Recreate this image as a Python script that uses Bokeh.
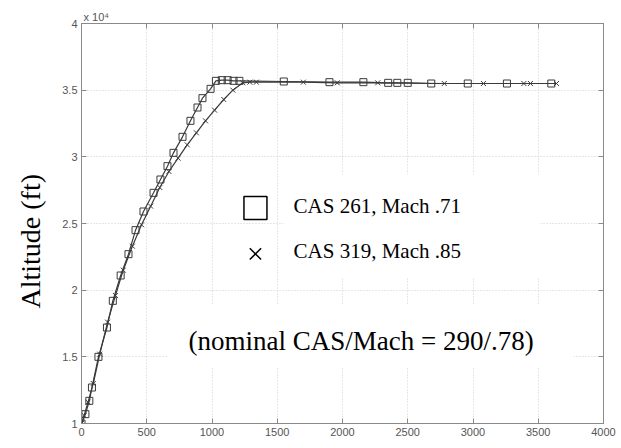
from bokeh.plotting import figure
from bokeh.models import (Label, LinearAxis, FixedTicker, CustomJSTickFormatter,
                          Range1d, Title)
from bokeh.embed import file_html
from bokeh.resources import INLINE

# Climb profiles: time (s) vs altitude (ft)
cas261_time = [0, 30, 60, 80, 130, 195, 240, 300, 360, 414, 475, 552, 605, 659,
               705, 774, 835, 889, 927, 989, 1030, 1075, 1120, 1165, 1210, 1550,
               1900, 2160, 2350, 2420, 2500, 2680, 2960, 3260, 3600]
cas261_alt = [10000, 10700, 11700, 12700, 15000, 17200, 19200, 21100, 22700,
              24500, 25900, 27300, 28300, 29300, 30300, 31500, 32700, 33700,
              34400, 35100, 35700, 35750, 35750, 35700, 35700, 35650, 35600,
              35600, 35550, 35550, 35550, 35500, 35500, 35500, 35500]

cas319_time = [0, 20, 50, 90, 140, 200, 260, 320, 390, 460, 530, 600, 670, 740,
               810, 880, 950, 1020, 1090, 1160, 1235, 1290, 1340, 1700, 1960,
               2270, 2780, 3080, 3390, 3440, 3640]
cas319_alt = [10000, 10600, 11600, 13000, 15200, 17600, 19600, 21500, 23300,
              24900, 26300, 27700, 28900, 29900, 30900, 31800, 32700, 33500,
              34300, 35000, 35550, 35600, 35600, 35600, 35550, 35550, 35500,
              35500, 35500, 35500, 35500]

x_ticks = [0, 500, 1000, 1500, 2000, 2500, 3000, 3500, 4000]
y_ticks = [1, 1.5, 2, 2.5, 3, 3.5, 4]
y_title = "Altitude (ft)"
y_scale_text = "x 10⁴"
legend_labels = ["CAS 261, Mach .71", "CAS 319, Mach .85"]
note_text = "(nominal CAS/Mach = 290/.78)"

SCALE = 1e4
y261 = [a / SCALE for a in cas261_alt]
y319 = [a / SCALE for a in cas319_alt]

AX = "#8a8a8a"
TICK_TXT = "#555555"
SERIF = "Liberation Serif"

p = figure(width=621, height=448, output_backend="svg", toolbar_location=None,
           x_range=Range1d(0, 4000), y_range=Range1d(1, 4),
           min_border_left=81, min_border_right=18, min_border_top=23,
           min_border_bottom=25)
p.background_fill_color = "white"
p.border_fill_color = "white"
p.outline_line_color = AX
p.outline_line_width = 1

# exponent marker for the y axis, sitting above the frame's left corner
p.title.text = y_scale_text
p.title.align = "left"
p.title.offset = 2
p.title.standoff = 2
p.title.text_font = "Liberation Sans"
p.title.text_font_size = "11px"
p.title.text_font_style = "normal"
p.title.text_color = TICK_TXT

# grid: light dotted lines
for g in (p.xgrid, p.ygrid):
    g.grid_line_color = "#cfcfcf"
    g.grid_line_dash = "1 2"
    g.grid_line_width = 1
p.xgrid.ticker = FixedTicker(ticks=x_ticks)
p.ygrid.ticker = FixedTicker(ticks=y_ticks)

fmt = CustomJSTickFormatter(code="return String(tick);")

def style_axis(ax, ticks, show_labels=True):
    ax.ticker = FixedTicker(ticks=ticks)
    ax.axis_line_color = AX
    ax.major_tick_line_color = AX
    ax.major_tick_in = 5
    ax.major_tick_out = 0
    ax.minor_tick_line_color = None
    ax.formatter = fmt
    ax.major_label_text_font = "Liberation Sans"
    ax.major_label_text_font_size = "11px"
    ax.major_label_text_color = TICK_TXT
    if not show_labels:
        ax.major_label_text_alpha = 0
        ax.major_label_text_font_size = "1px"
        ax.major_label_standoff = 0

style_axis(p.xaxis[0], x_ticks)
style_axis(p.yaxis[0], y_ticks)
p.xaxis.major_label_standoff = 4
p.yaxis.major_label_standoff = 4

top_ax = LinearAxis()
style_axis(top_ax, x_ticks, show_labels=False)
p.add_layout(top_ax, "above")
right_ax = LinearAxis()
style_axis(right_ax, y_ticks, show_labels=False)
p.add_layout(right_ax, "right")

# y-axis title, starting a fixed distance above the frame's bottom edge
p.add_layout(Title(text=y_title, align="left", offset=115, standoff=24,
                   vertical_align="top",
                   text_font=SERIF, text_font_size="28px",
                   text_font_style="normal", text_color="black"), "left")

# white panels behind the key and the note
p.quad(left=[1548], right=[3517], bottom=[2.09], top=[2.87],
       fill_color="white", line_color=None)
p.quad(left=[659], right=[3770], bottom=[1.417], top=[1.897],
       fill_color="white", line_color=None)

LINE = "#3a3a3a"
p.line(cas319_time, y319, line_color=LINE, line_width=1.2)
p.line(cas261_time, y261, line_color=LINE, line_width=1.2)
p.scatter(cas261_time, y261, marker="square", size=7, fill_color=None,
          line_color=LINE, line_width=1)
p.scatter(cas319_time, y319, marker="x", size=7, line_color=LINE, line_width=1)

# key
p.scatter([1333], [2.617], marker="square", size=23, fill_color=None,
          line_color="black", line_width=1.5)
p.scatter([1333], [2.272], marker="x", size=16, line_color="black",
          line_width=1.5)
for yy, txt in zip([2.632, 2.295], legend_labels):
    p.add_layout(Label(x=1625, y=yy, text=txt, text_font=SERIF,
                       text_font_size="21px", text_color="black",
                       text_baseline="middle", text_align="left"))
p.add_layout(Label(x=820, y=1.62, text=note_text, text_font=SERIF,
                   text_font_size="27px", text_color="black",
                   text_baseline="middle", text_align="left"))

open("out.html", "w").write(file_html(p, INLINE))
